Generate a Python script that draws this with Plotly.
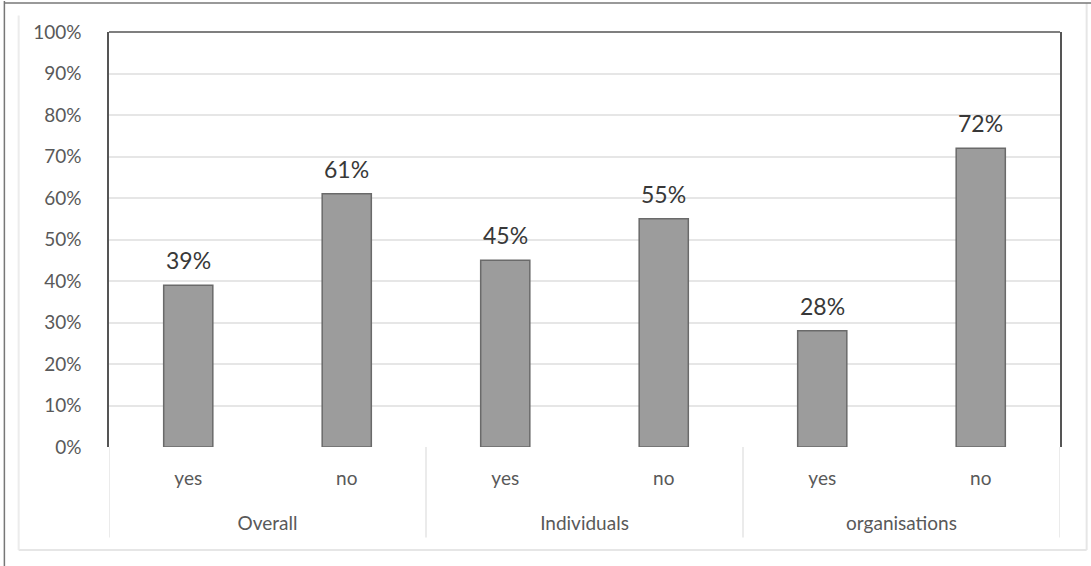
import plotly.graph_objects as go

groups = ["Overall", "Individuals", "organisations"]
answers = ["yes", "no", "yes", "no", "yes", "no"]
values = [39, 61, 45, 55, 28, 72]
labels = [f"{v}%" for v in values]
y_ticks = list(range(0, 101, 10))
y_ticklabels = [f"{t}%" for t in y_ticks]

FONT = "Lato, Open Sans, Liberation Sans, sans-serif"
n = len(answers)
xpos = list(range(n))
group_centers = [2 * i + 0.5 for i in range(len(groups))]
dividers = [-0.5] + [2 * i + 1.5 for i in range(len(groups))]

fig = go.Figure()
fig.add_trace(go.Bar(
    x=xpos,
    y=values,
    marker=dict(color="#9c9c9c", line=dict(color="#6a6a6a", width=1.5)),
    width=0.31,
))
# invisible trace carrying the group axis
fig.add_trace(go.Scatter(x=group_centers, y=[0] * len(groups), xaxis="x2",
                         mode="markers", marker=dict(opacity=0), hoverinfo="skip"))

annotations = [
    dict(x=x, y=v, xref="x", yref="y", text=t, showarrow=False, yanchor="bottom",
         yshift=9, font=dict(family=FONT, size=23, color="#383838"))
    for x, v, t in zip(xpos, values, labels)
]

shapes = [
    dict(type="line", xref="x", yref="paper", x0=d, x1=d, y0=0, y1=-0.218,
         line=dict(color="#e4e4e4", width=1.5))
    for d in dividers
]
shapes += [
    dict(type="line", xref="paper", yref="paper", x0=0, x1=1, y0=1, y1=1,
         line=dict(color="#555555", width=1.5)),
    dict(type="line", xref="paper", yref="paper", x0=-0.095, x1=1.028, y0=-0.248, y1=-0.248,
         line=dict(color="#e6e6e6", width=2)),
    dict(type="line", xref="paper", yref="paper", x0=-0.095, x1=-0.095, y0=-0.248, y1=1.04,
         line=dict(color="#ececec", width=2)),
    dict(type="line", xref="paper", yref="paper", x0=1.028, x1=1.028, y0=-0.248, y1=1.07,
         line=dict(color="#e6e6e6", width=2)),
    dict(type="line", xref="paper", yref="paper", x0=-0.11, x1=-0.11, y0=-0.29, y1=1.075,
         line=dict(color="#777777", width=1.5)),
    dict(type="line", xref="paper", yref="paper", x0=-0.11, x1=1.04, y0=1.07, y1=1.07,
         line=dict(color="#777777", width=1.5)),
]

fig.update_layout(
    width=1091, height=566,
    margin=dict(l=109, r=31, t=32, b=119),
    paper_bgcolor="white", plot_bgcolor="white",
    showlegend=False,
    font=dict(family=FONT, size=20, color="#595959"),
    annotations=annotations,
    shapes=shapes,
    xaxis=dict(
        range=[-0.5, n - 0.5],
        tickvals=xpos, ticktext=answers,
        showline=False, showgrid=False, zeroline=False, ticks="",
        ticklabelstandoff=18,
        tickfont=dict(family=FONT, size=19, color="#595959"),
    ),
    xaxis2=dict(
        overlaying="x", side="bottom", anchor="y",
        range=[-0.5, n - 0.5],
        tickvals=group_centers, ticktext=groups,
        showline=False, showgrid=False, zeroline=False, ticks="",
        ticklabelstandoff=63,
        tickfont=dict(family=FONT, size=19, color="#595959"),
    ),
    yaxis=dict(
        range=[0, 100],
        tickvals=y_ticks, ticktext=y_ticklabels,
        showgrid=True, gridcolor="#e6e6e6", gridwidth=1.5,
        zeroline=False, showline=True, mirror=True,
        linecolor="#555555", linewidth=1.5,
        ticks="", ticklabelstandoff=22,
        tickfont=dict(family=FONT, size=19, color="#595959"),
    ),
)

fig.write_html("out.html")
